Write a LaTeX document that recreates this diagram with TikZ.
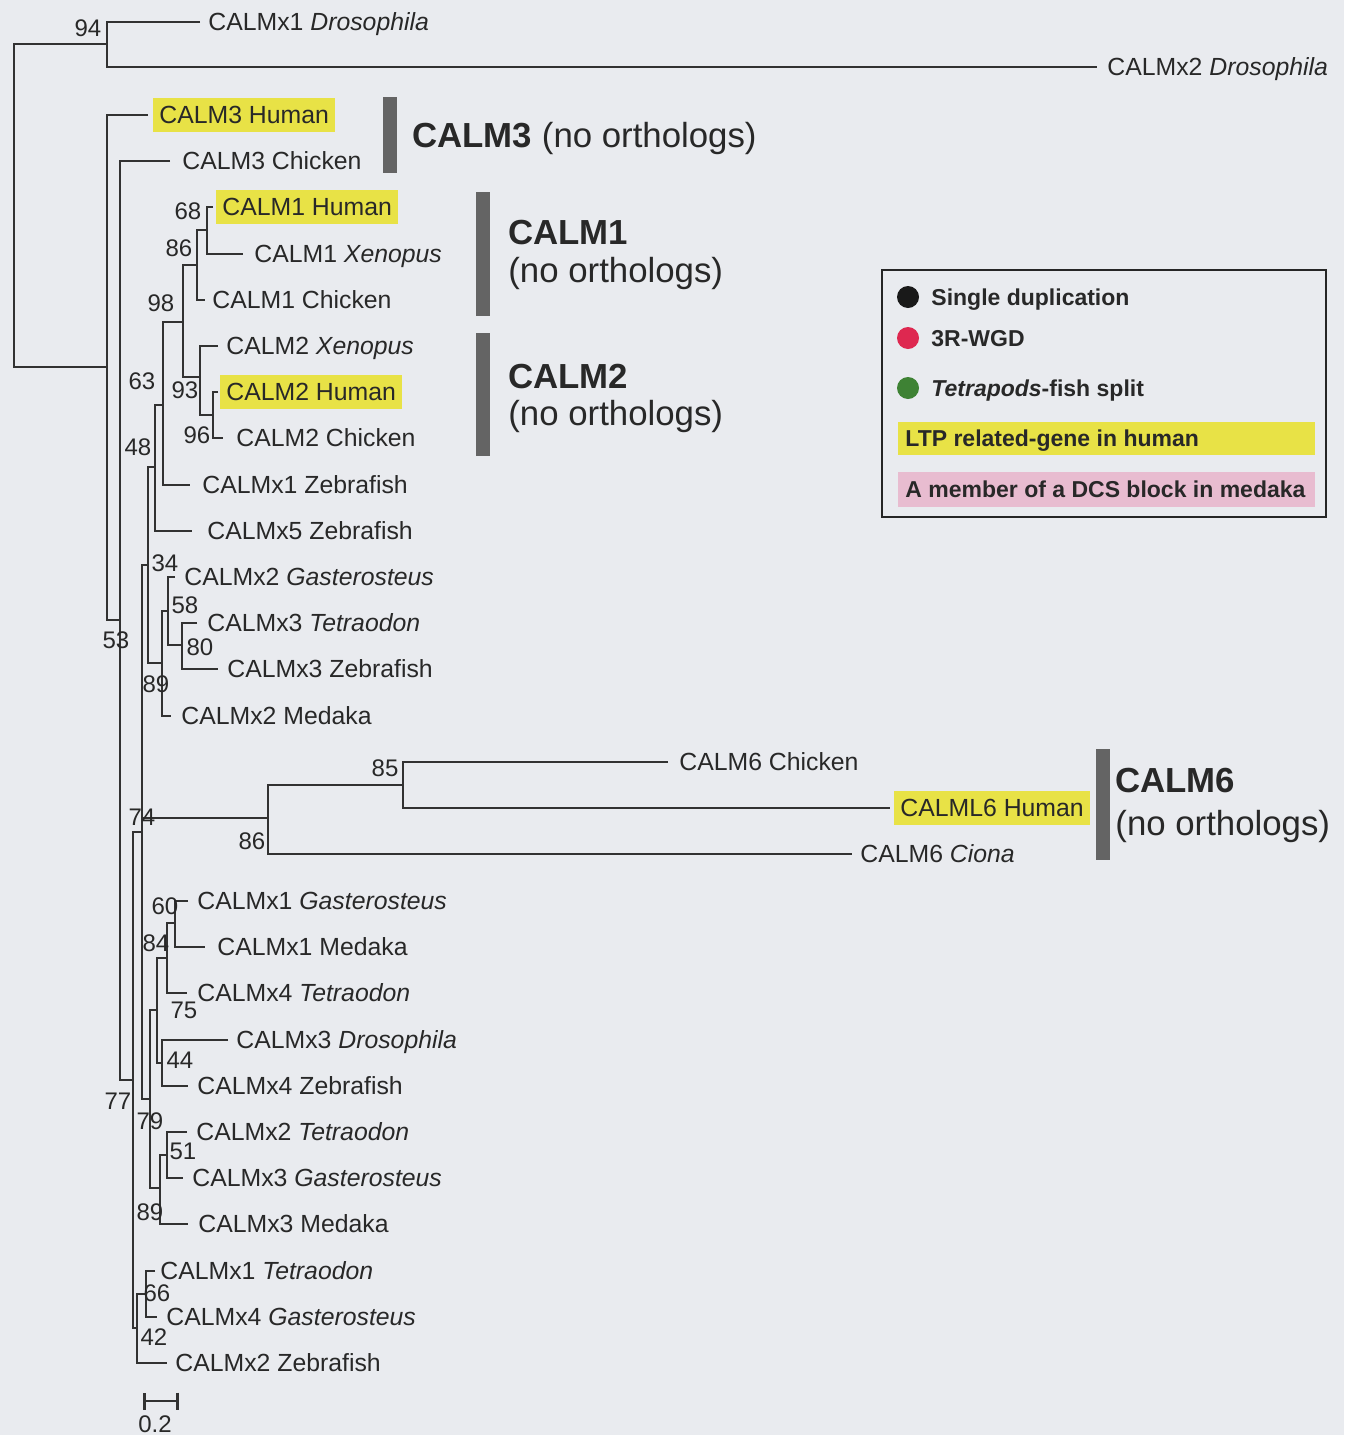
\documentclass[tikz,border=0pt]{standalone}
\usepackage{fontspec}
\setmainfont{Liberation Sans}
\usetikzlibrary{arrows.meta}
\definecolor{bg}{RGB}{233,235,239}
\definecolor{ln}{RGB}{50,50,50}
\definecolor{hl}{RGB}{232,226,70}
\definecolor{pk}{RGB}{232,188,208}
\definecolor{barc}{RGB}{100,100,100}
\definecolor{rd}{RGB}{222,40,80}
\definecolor{gr}{RGB}{62,130,52}
\definecolor{tx}{RGB}{40,40,40}
\newcommand\lf[6]{\coordinate (#1t) at (#2,#4); \node[#6] (#1) at (#3,#4) {#5};}
\tikzset{
  br/.style={draw=ln, line width=1.3pt},
  leaf/.style={anchor=west, inner xsep=3pt, inner ysep=4pt, text height=8.9pt, text depth=0pt, font=\fontsize{12.4}{14}\selectfont, text=tx},
  hleaf/.style={leaf, fill=hl},
  bs/.style={inner sep=0pt, font=\fontsize{12}{14}\selectfont, text height=8.6pt, text depth=0pt, text=tx},
  big/.style={anchor=west, inner sep=0pt, font=\fontsize{17.4}{20}\selectfont, text height=12.5pt, text depth=0pt, text=tx},
  leg/.style={anchor=west, inner sep=0pt, font=\fontsize{11.5}{13}\selectfont\bfseries, text height=8.2pt, text depth=0pt, text=tx},
  dot/.style={circle, inner sep=0pt, minimum size=11pt},
  grbar/.style={fill=barc},
}
\begin{document}
\begin{tikzpicture}[x=0.5pt,y=-0.5pt]
\fill[bg] (0,0) rectangle (1344,1435);
\useasboundingbox (0,0) rectangle (1344,1435);

% leaves
\lf{dro1}{200}{202}{22}{CALMx1 \textit{Drosophila}}{leaf}
\lf{dro2}{1097}{1101}{67}{CALMx2 \textit{Drosophila}}{leaf}
\lf{c3h}{148}{153}{115}{CALM3 Human}{hleaf}
\lf{c3c}{170}{176}{161}{CALM3 Chicken}{leaf}
\lf{c1h}{213}{216}{207}{CALM1 Human}{hleaf}
\lf{c1x}{243}{248}{254}{CALM1 \textit{Xenopus}}{leaf}
\lf{c1c}{205}{206}{300}{CALM1 Chicken}{leaf}
\lf{c2x}{218}{220}{346}{CALM2 \textit{Xenopus}}{leaf}
\lf{c2h}{218}{220}{392}{CALM2 Human}{hleaf}
\lf{c2c}{223}{230}{438}{CALM2 Chicken}{leaf}
\lf{x1z}{190}{196}{485}{CALMx1 Zebrafish}{leaf}
\lf{x5z}{192}{201}{531}{CALMx5 Zebrafish}{leaf}
\lf{x2g}{175}{178}{577}{CALMx2 \textit{Gasterosteus}}{leaf}
\lf{x3t}{197}{201}{623}{CALMx3 \textit{Tetraodon}}{leaf}
\lf{x3z}{218}{221}{669}{CALMx3 Zebrafish}{leaf}
\lf{x2m}{171}{175}{716}{CALMx2 Medaka}{leaf}
\lf{c6c}{668}{673}{762}{CALM6 Chicken}{leaf}
\lf{l6h}{890}{894}{808}{CALML6 Human}{hleaf}
\lf{c6i}{852}{854}{854}{CALM6 \textit{Ciona}}{leaf}
\lf{x1g}{188}{191}{901}{CALMx1 \textit{Gasterosteus}}{leaf}
\lf{x1m}{205}{211}{947}{CALMx1 Medaka}{leaf}
\lf{x4t}{187}{191}{993}{CALMx4 \textit{Tetraodon}}{leaf}
\lf{x3d}{228}{230}{1040}{CALMx3 \textit{Drosophila}}{leaf}
\lf{x4z}{188}{191}{1086}{CALMx4 Zebrafish}{leaf}
\lf{x2t}{187}{190}{1132}{CALMx2 \textit{Tetraodon}}{leaf}
\lf{x3g}{183}{186}{1178}{CALMx3 \textit{Gasterosteus}}{leaf}
\lf{x3m}{188}{192}{1224}{CALMx3 Medaka}{leaf}
\lf{x1t}{155}{154}{1271}{CALMx1 \textit{Tetraodon}}{leaf}
\lf{x4g}{157}{160}{1317}{CALMx4 \textit{Gasterosteus}}{leaf}
\lf{x2z}{167}{169}{1363}{CALMx2 Zebrafish}{leaf}

% internal nodes
\coordinate (R) at (14,206);
\coordinate (n94) at (107,44);
\coordinate (B) at (107,367);
\coordinate (n53) at (120,620);
\coordinate (n77) at (133,1080);
\coordinate (n74) at (142,832);
\coordinate (n34) at (148,565);
\coordinate (n48) at (155,467);
\coordinate (n63) at (163,405);
\coordinate (n98) at (183,322);
\coordinate (n86a) at (197,265);
\coordinate (n68) at (207,230);
\coordinate (n93) at (200,377);
\coordinate (n96) at (213,415);
\coordinate (n89a) at (162,663);
\coordinate (n58) at (168,611);
\coordinate (n80) at (182,645);
\coordinate (n86) at (268,818);
\coordinate (n85) at (403,785);
\coordinate (n79) at (150,1099);
\coordinate (n75) at (157,1010);
\coordinate (n84) at (167,958);
\coordinate (n60) at (175,923);
\coordinate (n44) at (162,1063);
\coordinate (n89b) at (160,1188);
\coordinate (n51) at (167,1155);
\coordinate (n42) at (137,1328);
\coordinate (n66) at (146,1294);

% branches
\draw[br] (n94) -| (R) |- (B);
\draw[br] (dro1t) -| (n94) |- (dro2t);
\draw[br] (c3ht) -| (B) |- (n53);
\draw[br] (c3ct) -| (n53) |- (n77);
\draw[br] (n74) -| (n77) |- (n42);
\draw[br] (n34) -| (n74) |- (n79);
\draw[br] (n86) -| (n74);
\draw[br] (n48) -| (n34) |- (n89a);
\draw[br] (n63) -| (n48) |- (x5zt);
\draw[br] (n98) -| (n63) |- (x1zt);
\draw[br] (n86a) -| (n98) |- (n93);
\draw[br] (n68) -| (n86a) |- (c1ct);
\draw[br] (c1ht) -| (n68) |- (c1xt);
\draw[br] (c2xt) -| (n93) |- (n96);
\draw[br] (c2ht) -| (n96) |- (c2ct);
\draw[br] (n58) -| (n89a) |- (x2mt);
\draw[br] (x2gt) -| (n58) |- (n80);
\draw[br] (x3tt) -| (n80) |- (x3zt);
\draw[br] (n85) -| (n86) |- (c6it);
\draw[br] (c6ct) -| (n85) |- (l6ht);
\draw[br] (n75) -| (n79) |- (n89b);
\draw[br] (n84) -| (n75) |- (n44);
\draw[br] (n60) -| (n84) |- (x4tt);
\draw[br] (x1gt) -| (n60) |- (x1mt);
\draw[br] (x3dt) -| (n44) |- (x4zt);
\draw[br] (n51) -| (n89b) |- (x3mt);
\draw[br] (x2tt) -| (n51) |- (x3gt);
\draw[br] (n66) -| (n42) |- (x2zt);
\draw[br] (x1tt) -| (n66) |- (x4gt);

% bootstrap values
\node[bs] (b94) at (88,28) {94};
\node[bs] (b68) at (188,211) {68};
\node[bs] (b86a) at (179,248) {86};
\node[bs] (b98) at (161,303) {98};
\node[bs] (b63) at (142,381) {63};
\node[bs] (b93) at (185,390) {93};
\node[bs] (b96) at (197,435) {96};
\node[bs] (b48) at (138,447) {48};
\node[bs] (b34) at (165,563) {34};
\node[bs] (b58) at (185,605) {58};
\node[bs] (b53) at (116,640) {53};
\node[bs] (b80) at (200,647) {80};
\node[bs] (b89a) at (156,684) {89};
\node[bs] (b85) at (385,768) {85};
\node[bs] (b74) at (142,817) {74};
\node[bs] (b86) at (252,841) {86};
\node[bs] (b60) at (165,906) {60};
\node[bs] (b84) at (156,943) {84};
\node[bs] (b75) at (184,1010) {75};
\node[bs] (b44) at (180,1060) {44};
\node[bs] (b77) at (118,1101) {77};
\node[bs] (b79) at (150,1121) {79};
\node[bs] (b51) at (183,1151) {51};
\node[bs] (b89b) at (150,1212) {89};
\node[bs] (b66) at (157,1293) {66};
\node[bs] (b42) at (154,1337) {42};

% scale bar
\coordinate (s1) at (143,1401);
\coordinate (s2) at (179,1401);
\draw[br, {Bar[width=8.5pt]}-{Bar[width=8.5pt]}] (s1) -- (s2);
\node[bs] (sc) at (155,1424) {0.2};

% group bars and labels
\fill[grbar] (383,97) rectangle (397,173);
\fill[grbar] (476,192) rectangle (490,316);
\fill[grbar] (476,333) rectangle (490,456);
\fill[grbar] (1096,749) rectangle (1110,860);
\node[big] (g3) at (412,135) {\textbf{CALM3} (no orthologs)};
\node[big] (g1a) at (508,232) {\textbf{CALM1}};
\node[big] (g1b) at (508,270) {(no orthologs)};
\node[big] (g2a) at (508,376) {\textbf{CALM2}};
\node[big] (g2b) at (508,413) {(no orthologs)};
\node[big] (g6a) at (1115,780) {\textbf{CALM6}};
\node[big] (g6b) at (1115,823) {(no orthologs)};

% legend
\draw[line width=1.2pt, draw=black!85] (882,270) rectangle (1326,517);
\node[dot, fill=black!90] (d1) at (908,297) {};
\node[dot, fill=rd] (d2) at (908,338) {};
\node[dot, fill=gr] (d3) at (908,388) {};
\node[leg] (t1) at (931,297) {Single duplication};
\node[leg] (t2) at (931,338) {3R-WGD};
\node[leg] (t3) at (931,388) {\textit{Tetrapods}-fish split};
\node[fill=hl, inner sep=0pt, minimum width=208.5pt, minimum height=16.5pt] (band1) at (1106.5,438.5) {};
\node[fill=pk, inner sep=0pt, minimum width=208.5pt, minimum height=17.5pt] (band2) at (1106.5,489.5) {};
\node[leg] (t4) at (905,438) {LTP related-gene in human};
\node[leg] (t5) at (905,489) {A member of a DCS block in medaka};
\end{tikzpicture}
\end{document}
